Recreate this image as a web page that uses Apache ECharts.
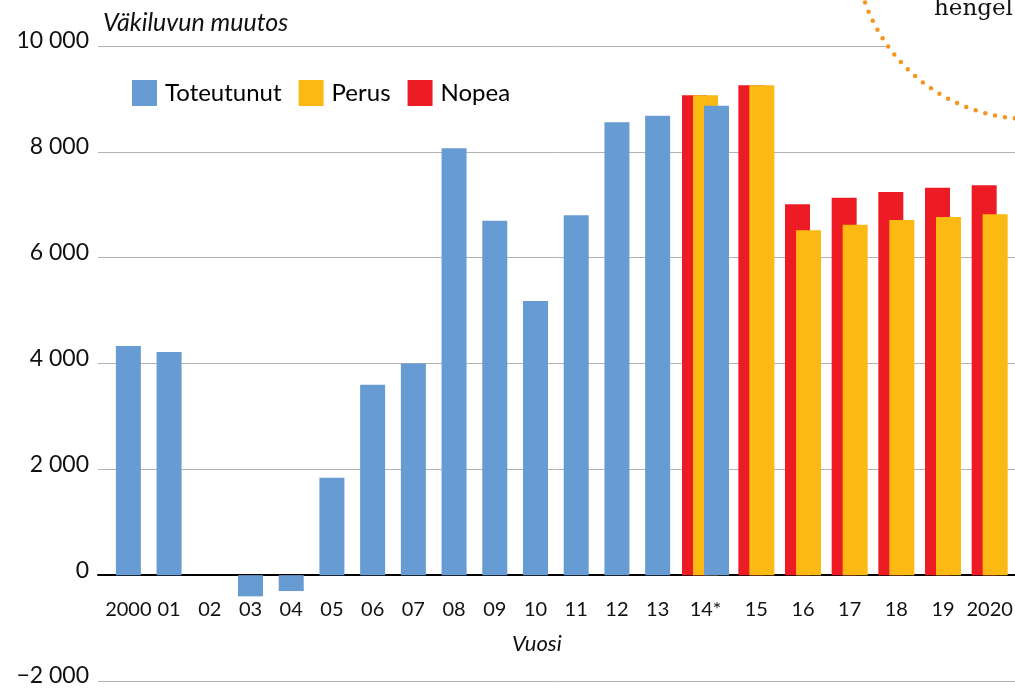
<!DOCTYPE html>
<html>
<head>
<meta charset="utf-8">
<title>Väkiluvun muutos</title>
<script src="https://cdn.jsdelivr.net/npm/echarts@6/dist/echarts.min.js"></script>
<style>
  html, body { margin: 0; padding: 0; background: #fff; }
  #chart { width: 1015px; height: 690px; }
</style>
</head>
<body>
<div id="chart"></div>
<script>
// toteutuneet vuodet 2000-2013
const pastYears = ['2000', '01', '02', '03', '04', '05', '06', '07', '08', '09', '10', '11', '12', '13']
const pastToteutunut = [4330, 4215, 0, -400, -300, 1840, 3600, 4000, 8070, 6700, 5180, 6800, 8560, 8680]

// 2014 ennakko
const midYears = ['14*']
const midToteutunut = [8870]
const midPerus = [9070]
const midNopea = [9070]

// ennusteet 2015-2020
const futureYears = ['15', '16', '17', '18', '19', '2020']
const futurePerus = [9260, 6520, 6620, 6710, 6770, 6820]
const futureNopea = [9260, 7010, 7130, 7240, 7320, 7370]

const yTicks = { min: -2000, max: 10000, interval: 2000 }

const BLUE = '#679bd3'
const YELLOW = '#fdb913'
const RED = '#ed1c24'
const FONT = 'Lato'

const chart = echarts.init(document.getElementById('chart'))

const fmt = v => {
  const s = Math.abs(v).toString().replace(/\B(?=(\d{3})+(?!\d))/g, ' ')
  return v < 0 ? '\u2212' + s : s
}

const gridTop = 46
const gridHeight = 635
// nollaviivan etäisyys piirtoalueen alareunasta
const zeroFromBottom = gridHeight * (0 - yTicks.min) / (yTicks.max - yTicks.min)

const makeGrid = (left, width) => ({
  left: left,
  width: width,
  top: gridTop,
  height: gridHeight,
  containLabel: false,
  outerBoundsMode: 'none'
})

const hiddenY = idx => ({
  gridIndex: idx,
  type: 'value',
  min: yTicks.min,
  max: yTicks.max,
  interval: yTicks.interval,
  axisLine: { show: false },
  axisTick: { show: false },
  axisLabel: { show: false },
  splitLine: { show: false }
})

const catX = (idx, data) => ({
  gridIndex: idx,
  type: 'category',
  data: data,
  position: 'bottom',
  offset: -zeroFromBottom,
  axisLine: { onZero: false, lineStyle: { color: '#000', width: 2 } },
  axisTick: { show: false },
  axisLabel: { interval: 0, margin: 24, fontSize: 20, fontFamily: FONT, color: '#111' }
})

const barBase = { type: 'bar', barWidth: 25, barGap: '-56%' }

chart.setOption({
  backgroundColor: '#fff',
  animation: false,
  textStyle: { fontFamily: FONT },
  legend: {
    left: 132,
    top: 80,
    padding: 0,
    itemWidth: 25,
    itemHeight: 26,
    itemGap: 17,
    icon: 'rect',
    data: ['Toteutunut', 'Perus', 'Nopea'],
    textStyle: { fontSize: 24, fontFamily: FONT, color: '#000', padding: [0, 0, 0, 3] }
  },
  grid: [
    makeGrid(98, 917),
    makeGrid(108, 570),
    makeGrid(678, 55),
    makeGrid(733, 280)
  ],
  xAxis: [
    {
      gridIndex: 0,
      type: 'value',
      min: 0,
      max: 1,
      axisLine: { onZero: true, lineStyle: { color: '#000', width: 2 } },
      axisTick: { show: false },
      axisLabel: { show: false },
      splitLine: { show: false }
    },
    catX(1, pastYears),
    catX(2, midYears),
    catX(3, futureYears)
  ],
  yAxis: [
    {
      gridIndex: 0,
      type: 'value',
      min: yTicks.min,
      max: yTicks.max,
      interval: yTicks.interval,
      axisLine: { show: false },
      axisTick: { show: false },
      axisLabel: {
        margin: 9,
        fontSize: 23,
        fontFamily: FONT,
        color: '#111',
        verticalAlign: 'bottom',
        lineHeight: 10,
        formatter: fmt
      },
      splitLine: { lineStyle: { color: '#b3b3b3', width: 1 } }
    },
    hiddenY(1),
    hiddenY(2),
    hiddenY(3)
  ],
  series: [
    {
      ...barBase,
      name: 'Toteutunut',
      xAxisIndex: 1,
      yAxisIndex: 1,
      itemStyle: { color: BLUE },
      data: pastToteutunut
    },
    {
      ...barBase,
      name: 'Nopea',
      xAxisIndex: 2,
      yAxisIndex: 2,
      itemStyle: { color: RED },
      data: midNopea
    },
    {
      ...barBase,
      name: 'Perus',
      xAxisIndex: 2,
      yAxisIndex: 2,
      itemStyle: { color: YELLOW },
      data: midPerus
    },
    {
      ...barBase,
      name: 'Toteutunut',
      xAxisIndex: 2,
      yAxisIndex: 2,
      itemStyle: { color: BLUE },
      data: midToteutunut
    },
    {
      ...barBase,
      name: 'Nopea',
      xAxisIndex: 3,
      yAxisIndex: 3,
      itemStyle: { color: RED },
      data: futureNopea
    },
    {
      ...barBase,
      name: 'Perus',
      xAxisIndex: 3,
      yAxisIndex: 3,
      itemStyle: { color: YELLOW },
      data: futurePerus
    }
  ],
  graphic: [
    {
      type: 'text',
      left: 103,
      top: 10,
      style: {
        text: 'Väkiluvun muutos',
        font: 'italic 25px ' + FONT,
        fill: '#111'
      }
    },
    {
      type: 'text',
      left: 512,
      top: 633,
      style: {
        text: 'Vuosi',
        font: 'italic 22px ' + FONT,
        fill: '#111'
      }
    },
    {
      // kulman taustaympyrä
      type: 'circle',
      z: 100,
      shape: { cx: 1030, cy: -56, r: 175 },
      style: {
        fill: '#fff',
        stroke: '#f7941d',
        lineWidth: 4.5,
        lineDash: [0, 10],
        lineCap: 'round'
      }
    },
    {
      type: 'text',
      z: 101,
      x: 934,
      y: -2,
      style: {
        text: 'hengel',
        font: '23px "DejaVu Serif"',
        fill: '#111'
      }
    }
  ]
})

window.addEventListener('resize', () => chart.resize())
</script>
</body>
</html>
